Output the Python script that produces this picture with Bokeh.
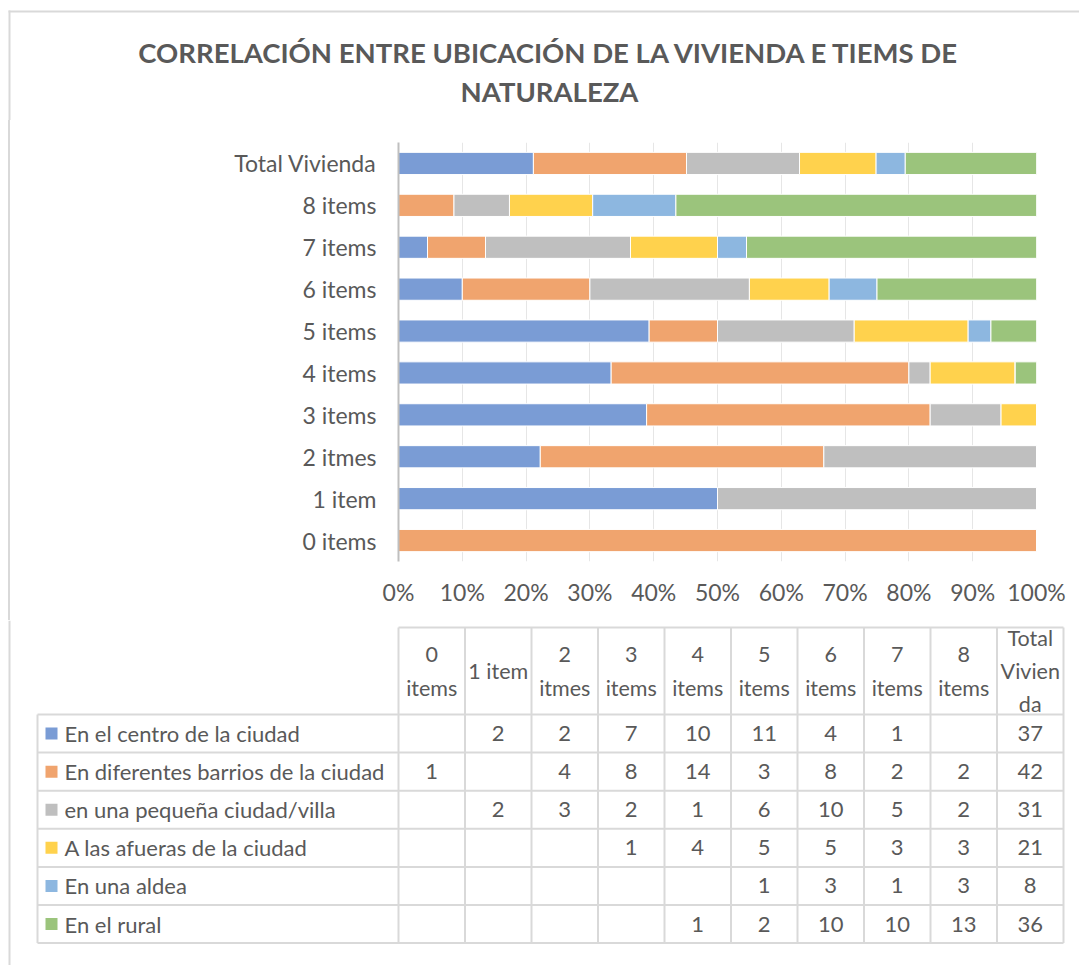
from bokeh.plotting import figure
from bokeh.models import ColumnDataSource, FactorRange, Range1d, FixedTicker, NumeralTickFormatter
from bokeh.embed import file_html
from bokeh.resources import INLINE
from bokeh.core.properties import value

# ---------------- data ----------------
title_lines = ["CORRELACIÓN ENTRE UBICACIÓN DE LA VIVIENDA E TIEMS DE", "NATURALEZA"]
item_groups = ["0 items", "1 item", "2 itmes", "3 items", "4 items",
               "5 items", "6 items", "7 items", "8 items"]
total_label = "Total Vivienda"
table_headers = ["0\nitems", "1 item", "2\nitmes", "3\nitems", "4\nitems",
                 "5\nitems", "6\nitems", "7\nitems", "8\nitems", "Total\nVivien\nda"]
series_names = ["En el centro de la ciudad", "En diferentes barrios de la ciudad",
                "en una pequeña ciudad/villa", "A las afueras de la ciudad",
                "En una aldea", "En el rural"]
series_colors = ["#7A9CD5", "#F0A46E", "#BFBFBF", "#FFD24D", "#8DB7E0", "#9BC47C"]

centro = [None, 2, 2, 7, 10, 11, 4, 1, None]
barrios = [1, None, 4, 8, 14, 3, 8, 2, 2]
pequena = [None, 2, 3, 2, 1, 6, 10, 5, 2]
afueras = [None, None, None, 1, 4, 5, 5, 3, 3]
aldea = [None, None, None, None, None, 1, 3, 1, 3]
rural = [None, None, None, None, 1, 2, 10, 10, 13]
totals = [37, 42, 31, 21, 8, 36]

pct_ticks = [0, 0.1, 0.2, 0.3, 0.4, 0.5, 0.6, 0.7, 0.8, 0.9, 1.0]

# ---------------- derived ----------------
counts = [centro, barrios, pequena, afueras, aldea, rural]
keys = ["s%d" % i for i in range(len(counts))]
categories = item_groups + [total_label]
col_sums = [sum((s[j] or 0) for s in counts) for j in range(len(item_groups))] + [sum(totals)]
data = {"cat": categories}
for k, s, tot in zip(keys, counts, totals):
    vals = [(v or 0) for v in s] + [tot]
    data[k] = [v / cs for v, cs in zip(vals, col_sums)]
src = ColumnDataSource(data)

TXT = "#595959"
FONT = "Lato"
BORDER = "#D9D9D9"
W = 1079

# ---------------- title strip ----------------
TH = 120
ttl = figure(width=W, height=TH, x_range=Range1d(0, W), y_range=Range1d(TH, 0),
             output_backend="svg", toolbar_location=None, min_border=0,
             x_axis_type=None, y_axis_type=None)
ttl.outline_line_color = None
ttl.grid.visible = False
ttl.segment(x0=[9, 8], x1=[9, W], y0=[10, 11], y1=[TH, 11], line_color=BORDER, line_width=2)
ttl.text(x=[549, 549], y=[52, 91], text=title_lines, text_align="center",
         text_baseline="middle", text_font=value(FONT), text_font_style="bold",
         text_font_size="27.5px", text_color=TXT)

# ---------------- bar chart ----------------
BH = 620 - TH
PL = 10  # host offset from the page's left edge (room for the outer border)
p = figure(width=W - PL, height=BH,
           y_range=FactorRange(factors=categories), x_range=Range1d(0, 1),
           output_backend="svg", toolbar_location=None,
           min_border_left=398 - PL, min_border_right=W - 1036,
           min_border_top=142 - TH, min_border_bottom=620 - 561)
p.hbar_stack(keys, y="cat", height=0.53, fill_color=series_colors,
             line_color="white", line_width=1, source=src)
p.outline_line_color = None
p.styles = {"margin-left": "%dpx" % PL, "box-shadow": "-2px 0 0 0 %s" % BORDER}
p.ygrid.visible = False
p.xgrid.grid_line_color = "#E6E6E6"
p.xgrid.grid_line_width = 1

xa = p.xaxis[0]
xa.ticker = FixedTicker(ticks=pct_ticks)
xa.formatter = NumeralTickFormatter(format="0%")
xa.axis_line_color = None
xa.major_tick_line_color = None
xa.minor_tick_line_color = None
xa.major_label_standoff = 10
xa.major_label_text_font = FONT
xa.major_label_text_font_size = "23px"
xa.major_label_text_color = TXT

ya = p.yaxis[0]
ya.axis_line_color = "#BFBFBF"
ya.axis_line_width = 2
ya.major_tick_line_color = None
ya.minor_tick_line_color = None
ya.major_label_standoff = 16
ya.major_label_text_font = FONT
ya.major_label_text_font_size = "23px"
ya.major_label_text_color = TXT

# ---------------- data table ----------------
T0 = 620
TBH = 965 - T0
t = figure(width=W, height=TBH, x_range=Range1d(0, W), y_range=Range1d(T0 + TBH, T0),
           output_backend="svg", toolbar_location=None, min_border=0,
           x_axis_type=None, y_axis_type=None)
t.outline_line_color = None
t.grid.visible = False
t.segment(x0=[9], x1=[9], y0=[T0], y1=[T0 + TBH], line_color=BORDER, line_width=2)

left_edge = 37
first_col = 398
col_w = 66.5
head_top = 627
head_bot = 714
row_h = 38.1
ncols = len(table_headers)
nrows = len(series_names)
col_edges = [first_col + col_w * k for k in range(ncols + 1)]
row_edges = [head_bot + row_h * k for k in range(nrows + 1)]

hx0 = [first_col] + [left_edge] * len(row_edges)
hx1 = [col_edges[-1]] * (1 + len(row_edges))
hy = [head_top] + row_edges
t.segment(x0=hx0, x1=hx1, y0=hy, y1=hy, line_color=BORDER, line_width=2)
vx = [left_edge] + col_edges
vy0 = [head_bot] + [head_top] * len(col_edges)
vy1 = [row_edges[-1]] * len(vx)
t.segment(x0=vx, x1=vx, y0=vy0, y1=vy1, line_color=BORDER, line_width=2)

col_centers = [first_col + col_w * (k + 0.5) for k in range(ncols)]
row_centers = [head_bot + row_h * (k + 0.5) for k in range(nrows)]

t.text(x=col_centers, y=[(head_top + head_bot) / 2] * ncols, text=table_headers,
       text_align="center", text_baseline="middle", text_font=value(FONT),
       text_font_size="21.5px", text_color=TXT, text_line_height=1.28)

t.rect(x=[51] * nrows, y=row_centers, width=12, height=12,
       fill_color=series_colors, line_color=None)
t.text(x=[64] * nrows, y=row_centers, text=series_names, text_align="left",
       text_baseline="middle", text_font=value(FONT), text_font_size="22px", text_color=TXT)

cx, cy, ct = [], [], []
for i, (s, tot) in enumerate(zip(counts, totals)):
    for j, v in enumerate(list(s) + [tot]):
        if v is None:
            continue
        cx.append(col_centers[j])
        cy.append(row_centers[i])
        ct.append(str(v))
t.text(x=cx, y=cy, text=ct, text_align="center", text_baseline="middle",
       text_font=value(FONT), text_font_size="22px", text_color=TXT)

open("out.html", "w").write(file_html([ttl, p, t], INLINE))
